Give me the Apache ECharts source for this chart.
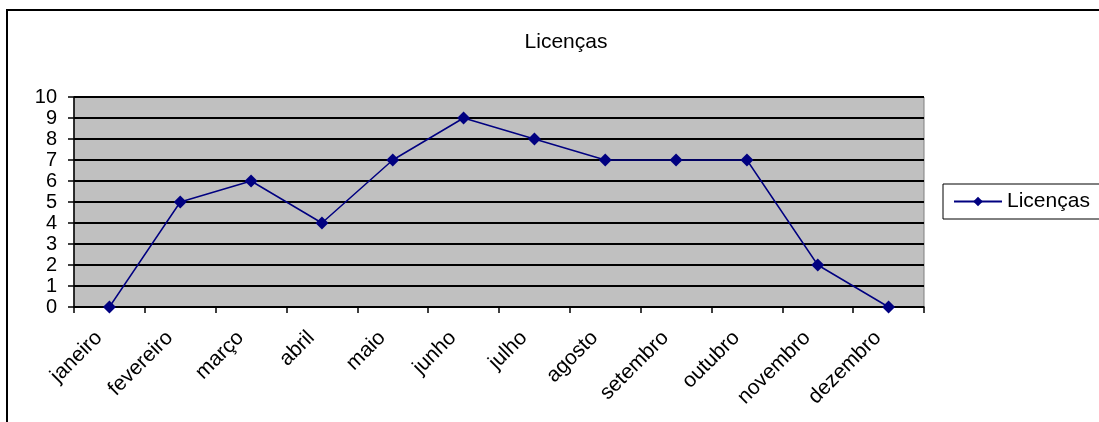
<!DOCTYPE html>
<html><head><meta charset="utf-8">
<script src="https://cdn.jsdelivr.net/npm/echarts@6/dist/echarts.min.js"></script>
<style>
html,body{margin:0;padding:0;background:#fff;}
#frame{position:absolute;left:6px;top:9px;width:1200px;height:500px;border-left:2px solid #000;border-top:2px solid #000;}
#c{position:absolute;left:0;top:0;width:1099px;height:422px;}
</style></head>
<body>
<div id="frame"></div>
<div id="c"></div>
<script>
var categories = ['janeiro','fevereiro','março','abril','maio','junho','julho','agosto','setembro','outubro','novembro','dezembro'];
var licencas = [0,5,6,4,7,9,8,7,7,7,2,0];
var seriesName = 'Licenças';
var chart = echarts.init(document.getElementById('c'), null, {renderer:'canvas'});
var font = 'Arial, "Liberation Sans", sans-serif';
chart.setOption({
  animation:false,
  backgroundColor:'transparent',
  title:{text:'Licenças', left:561, top:27, textAlign:'center',
    textStyle:{fontFamily:font, fontSize:21, fontWeight:'normal', color:'#000'}},
  legend:{data:[seriesName], left:943, top:184, orient:'vertical',
    borderColor:'#000', borderWidth:1, padding:[7,60,7,10],
    itemWidth:48, itemHeight:12, itemGap:0,
    textStyle:{fontFamily:font, fontSize:21, color:'#000'}},
  grid:{left:74, top:97, width:850, height:210, containLabel:false,
    show:true, backgroundColor:'#C0C0C0', borderColor:'#808080', borderWidth:1},
  xAxis:{type:'category', data:categories, boundaryGap:true,
    axisLine:{lineStyle:{color:'#000', width:1.5}},
    axisTick:{show:true, length:6, alignWithLabel:false, lineStyle:{color:'#000', width:1.5}},
    axisLabel:{rotate:45, fontFamily:font, fontSize:21, color:'#000', margin:17,
      padding:[0,15,0,0], interval:0},
    splitLine:{show:false}},
  yAxis:{type:'value', min:0, max:10, interval:1,
    axisLine:{show:true, lineStyle:{color:'#000', width:1.5}},
    axisTick:{show:true, length:6, lineStyle:{color:'#000', width:1.5}},
    axisLabel:{fontFamily:font, fontSize:20, color:'#000', margin:17},
    splitLine:{show:true, lineStyle:{color:'#000', width:1.8}}},
  series:[{name:seriesName, type:'line', data:licencas,
    symbol:'diamond', symbolSize:13, showAllSymbol:true,
    lineStyle:{color:'#000080', width:1.5},
    itemStyle:{color:'#000080'}}]
});
</script>
</body></html>
